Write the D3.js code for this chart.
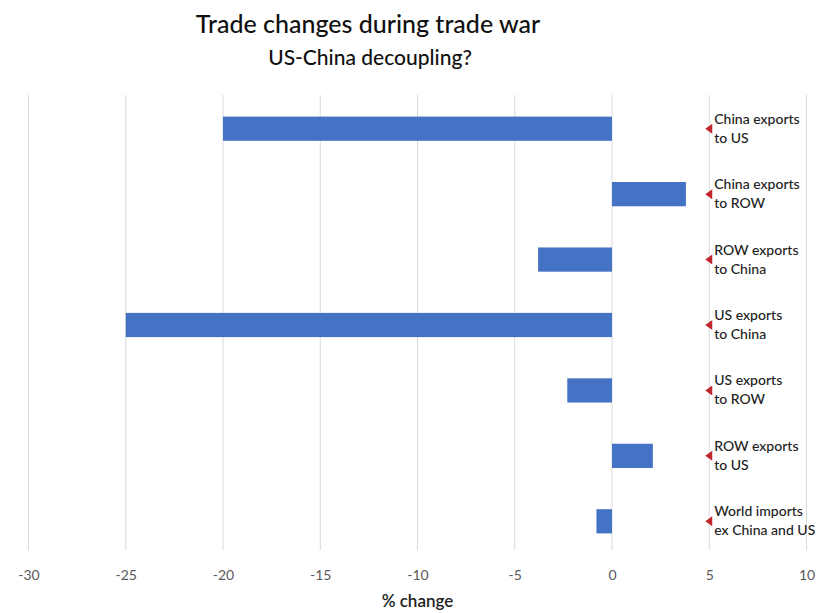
<!DOCTYPE html>
<html>
<head>
<meta charset="utf-8">
<script src="https://cdn.jsdelivr.net/npm/d3@7"></script>
<style>
  body { margin: 0; background: #fff; }
  text { font-family: Lato, "Open Sans", sans-serif; }
</style>
</head>
<body>
<script>
const categories = [
  ["China exports", "to US"],
  ["China exports", "to ROW"],
  ["ROW exports", "to China"],
  ["US exports", "to China"],
  ["US exports", "to ROW"],
  ["ROW exports", "to US"],
  ["World imports", "ex China and US"]
];
const changes = [-20, 3.8, -3.8, -25, -2.3, 2.1, -0.8];
const xTicks = [-30, -25, -20, -15, -10, -5, 0, 5, 10];

const width = 830, height = 613;
const svg = d3.select("body").append("svg")
  .attr("width", width).attr("height", height);

const x = d3.scaleLinear().domain([-30, 10]).range([28.5, 806.5]);
const y = d3.scaleBand().domain(d3.range(categories.length)).range([96, 554]).paddingInner(0.63).paddingOuter(0.315);

// gridlines
svg.append("g").selectAll("line").data(xTicks).join("line")
  .attr("x1", d => x(d)).attr("x2", d => x(d))
  .attr("y1", 95).attr("y2", 550)
  .attr("stroke", "#d9d9d9").attr("stroke-width", 1);

// bars
svg.append("g").selectAll("rect").data(changes).join("rect")
  .attr("x", d => x(Math.min(0, d)))
  .attr("width", d => Math.abs(x(d) - x(0)))
  .attr("y", (d, i) => y(i))
  .attr("height", y.bandwidth())
  .attr("fill", "#4472c4");

// x axis labels
const xAxis = d3.axisBottom(x).tickValues(xTicks).tickSize(0).tickPadding(0)
  .tickFormat(d => String(d));
const ax = svg.append("g").attr("transform", "translate(0,570)").call(xAxis);
ax.select(".domain").remove();
ax.selectAll("text").attr("fill", "#595959").style("font-size", "14px")
  .style("font-family", "Lato, sans-serif");

svg.append("text").attr("x", x(-10)).attr("y", 607).attr("text-anchor", "middle")
  .attr("fill", "#222").style("font-size", "17px").style("font-weight", "600").text("% change");

// right-hand labels with red markers
const lab = svg.append("g").selectAll("g").data(categories).join("g")
  .attr("transform", (d, i) => `translate(${x(5)},${y(i) + y.bandwidth() / 2})`);
lab.append("path").attr("d", "M-4,0 L3,-5 L3,5 Z").attr("fill", "#c0272d");
lab.append("text").attr("x", 5).attr("y", -5).attr("fill", "#222")
  .style("font-size", "14px").style("font-weight", "500").text(d => d[0]);
lab.append("text").attr("x", 5).attr("y", 14).attr("fill", "#222")
  .style("font-size", "14px").style("font-weight", "500").text(d => d[1]);

// titles
svg.append("text").attr("x", 368).attr("y", 33).attr("text-anchor", "middle")
  .attr("fill", "#111").style("font-size", "25px").style("font-weight", "500").text("Trade changes during trade war");
svg.append("text").attr("x", 370).attr("y", 65).attr("text-anchor", "middle")
  .attr("fill", "#111").style("font-size", "21px").style("font-weight", "500").text("US-China decoupling?");
</script>
</body>
</html>
